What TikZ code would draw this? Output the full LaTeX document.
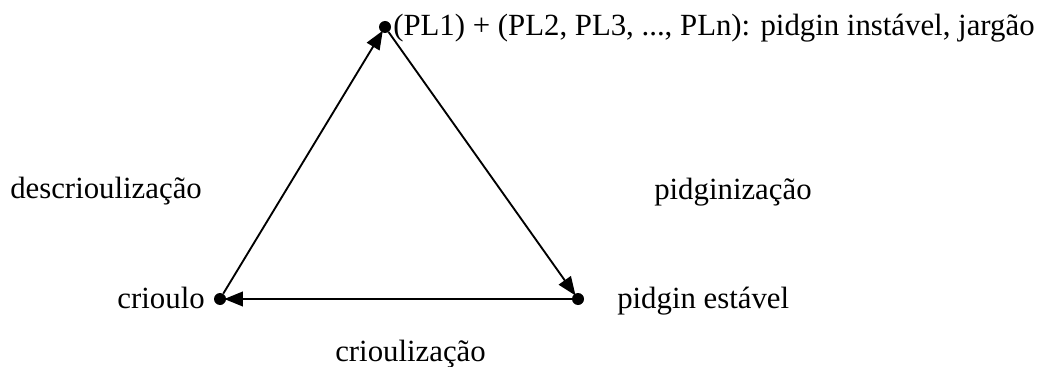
\documentclass[tikz,border=0pt]{standalone}
\usepackage{fontspec}
\setmainfont{Liberation Serif}
\usetikzlibrary{arrows.meta}
\begin{document}
\begin{tikzpicture}[x=0.75pt,y=-0.75pt,
  pt/.style={circle,fill=black,inner sep=0pt,minimum size=9pt},
  lbl/.style={inner sep=0pt,font=\fontsize{23.1}{27}\selectfont},
  edge/.style={line width=1.4pt,-{Triangle[length=14pt,width=11pt]},shorten >=-1.5pt}]
\useasboundingbox (0,0) rectangle (1041,367);
\node[pt] (top) at (385,27) {};
\node[pt] (cri) at (220,299) {};
\node[pt] (pid) at (578,299) {};
\node[lbl,anchor=base west] (ttop) at (393,36) {(PL1) + (PL2, PL3, ..., PLn): pidgin instável, jargão};
\node[lbl,anchor=base east] (tcri) at (205,308) {crioulo};
\node[lbl,anchor=base west] (tpid) at (617,308) {pidgin estável};
\node[lbl,anchor=base west] (tpz) at (654,199) {pidginização};
\node[lbl,anchor=base west] (tdes) at (10,198) {descrioulização};
\node[lbl,anchor=base west] (tcz) at (335,361) {crioulização};
\draw[edge] (cri) -- (top);
\draw[edge] (top) -- (pid);
\draw[edge] (pid) -- (cri);
\end{tikzpicture}
\end{document}
